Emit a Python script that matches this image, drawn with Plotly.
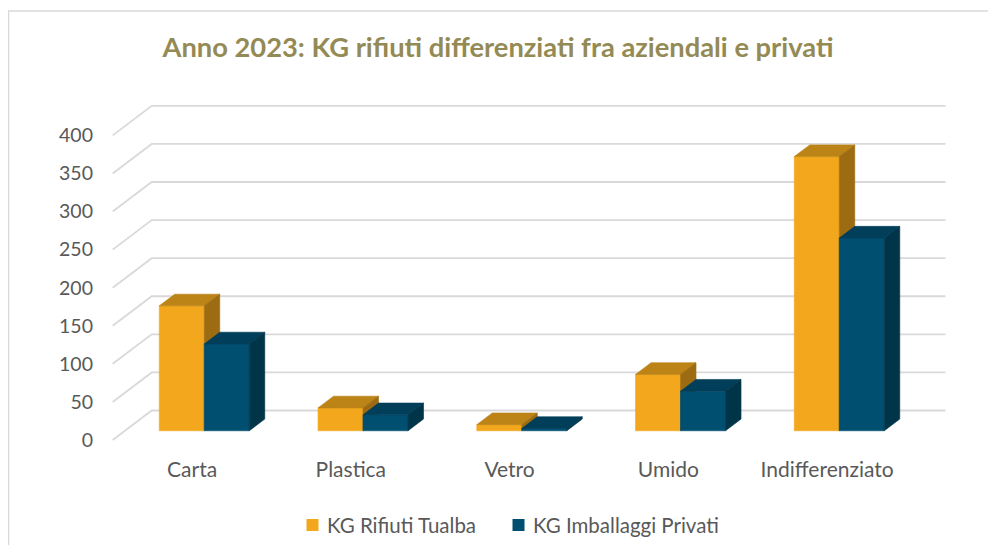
import plotly.graph_objects as go

# ---------------- data ----------------
categories = ["Carta", "Plastica", "Vetro", "Umido", "Indifferenziato"]
tualba = [164, 30, 8, 74, 360]
privati = [114, 21, 3, 52, 253]
series_names = ["KG Rifiuti Tualba", "KG Imballaggi Privati"]
y_ticks = [0, 50, 100, 150, 200, 250, 300, 350, 400]

# ---------------- styling / geometry (page pixel coordinates) ----------------
PAGE_W, PAGE_H = 996, 553
OFF = 8                       # default body margin of the html page
W, H = PAGE_W - 2 * OFF, PAGE_H - 2 * OFF
plot_l, plot_r, plot_t, plot_b = 100, 960, 95, 455
px_per_cat = 158.75
x0_px = 112.7          # pixel of category -0.5 on the front edge
px_per_unit = 0.7616
y0_px = 440.0          # pixel of value 0 on the front edge
depth_dx_px, depth_dy_px = 39.0, 29.5   # full depth (front edge -> back wall)
z_front, z_back = 0.313, 0.71           # bar depth range
bar_w = 0.2835

face_colors = [
    {"front": "#F2A71D", "top": "#BC8316", "side": "#9D6C12"},
    {"front": "#004F71", "top": "#003E59", "side": "#003449"},
]
grid_color = "#D9D9D9"
text_color = "#595959"
font_family = "Lato"


def ddx(z):
    return z * depth_dx_px / px_per_cat


def ddy(z):
    return z * depth_dy_px / px_per_unit


def paper_x(px):
    return (px - plot_l) / (plot_r - plot_l)


def paper_y(py):
    return (plot_b - py) / (plot_b - plot_t)


x_range = [(plot_l - x0_px) / px_per_cat - 0.5, (plot_r - x0_px) / px_per_cat - 0.5]
y_range = [(y0_px - plot_b) / px_per_unit, (y0_px - plot_t) / px_per_unit]

fig = go.Figure()

# gridlines: side wall diagonals + back wall horizontals
gx, gy = [], []
n = len(categories)
for g in y_ticks:
    gx += [-0.5, -0.5 + ddx(1), n - 0.5 + ddx(1), None]
    gy += [g, g + ddy(1), g + ddy(1), None]
fig.add_trace(go.Scatter(x=gx, y=gy, mode="lines", line=dict(color=grid_color, width=1.8),
                         hoverinfo="skip", showlegend=False))

# bars (3D faces)
fxF, fyF = ddx(z_front), ddy(z_front)
fxB, fyB = ddx(z_back), ddy(z_back)
for s, vals in enumerate([tualba, privati]):
    faces = {"front": ([], []), "top": ([], []), "side": ([], [])}
    for i, v in enumerate(vals):
        xl = i - bar_w + s * bar_w
        xr = xl + bar_w
        fx, fy = faces["front"]
        fx += [xl + fxF, xr + fxF, xr + fxF, xl + fxF, xl + fxF, None]
        fy += [fyF, fyF, v + fyF, v + fyF, fyF, None]
        tx, ty = faces["top"]
        tx += [xl + fxF, xr + fxF, xr + fxB, xl + fxB, xl + fxF, None]
        ty += [v + fyF, v + fyF, v + fyB, v + fyB, v + fyF, None]
        sx, sy = faces["side"]
        sx += [xr + fxF, xr + fxB, xr + fxB, xr + fxF, xr + fxF, None]
        sy += [fyF, fyB, v + fyB, v + fyF, fyF, None]
    for key in ["front", "top", "side"]:
        c = face_colors[s][key]
        fig.add_trace(go.Scatter(x=faces[key][0], y=faces[key][1], mode="lines", fill="toself",
                                 fillcolor=c, line=dict(color=c, width=0.6),
                                 name=series_names[s], hoverinfo="skip", showlegend=False))

# legend (keys + labels)
legend_y = 525
legend_items = [(312.5, 325), (518.5, 531)]   # square centre x, text left x (page px)
shapes = [dict(type="rect", xref="paper", yref="paper",
               x0=paper_x(8.5), x1=1.2, y0=-0.5, y1=paper_y(11),
               line=dict(color=grid_color, width=1.5), fillcolor="rgba(0,0,0,0)", layer="below")]
annotations = []
for s, (sq_x, tx_x) in enumerate(legend_items):
    shapes.append(dict(type="rect", xref="paper", yref="paper",
                       x0=paper_x(sq_x - 6), x1=paper_x(sq_x + 6),
                       y0=paper_y(legend_y + 6), y1=paper_y(legend_y - 6),
                       line=dict(width=0), fillcolor=face_colors[s]["front"]))
    annotations.append(dict(text=series_names[s], xref="paper", yref="paper",
                            x=paper_x(tx_x), y=paper_y(legend_y), xanchor="left", yanchor="middle",
                            showarrow=False, font=dict(family=font_family, size=20.5, color=text_color)))

fig.update_layout(
    width=W, height=H, autosize=False,
    margin=dict(l=plot_l - OFF, r=W - (plot_r - OFF), t=plot_t - OFF, b=H - (plot_b - OFF)),
    paper_bgcolor="white", plot_bgcolor="white",
    font=dict(family=font_family, color=text_color, size=19),
    title=dict(text="<b>Anno 2023: KG rifiuti differenziati fra aziendali e privati</b>",
               x=(498 - OFF) / W, xref="container", xanchor="center",
               y=1 - (47 - OFF) / H, yref="container", yanchor="middle",
               font=dict(family=font_family, size=27.3, color="#948A54")),
    xaxis=dict(range=x_range, tickvals=list(range(n)), ticktext=categories,
               showgrid=False, zeroline=False, showline=False, ticks="",
               tickfont=dict(size=21, color=text_color)),
    yaxis=dict(range=y_range, tickvals=y_ticks, ticktext=[str(t) for t in y_ticks],
               showgrid=False, zeroline=False, showline=False, ticks="",
               tickfont=dict(size=19.5, color=text_color), ticklabelstandoff=6),
    showlegend=False,
    shapes=shapes,
    annotations=annotations,
)

fig.write_html("out.html")
